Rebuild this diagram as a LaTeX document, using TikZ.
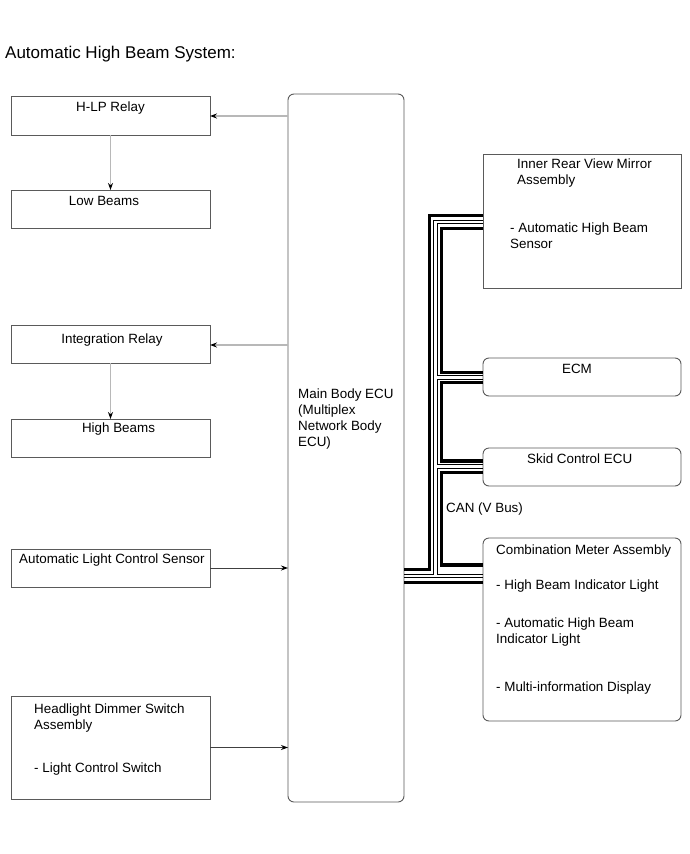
\documentclass[tikz,border=0pt]{standalone}
\usepackage{fontspec}
\setmainfont{Liberation Sans}
\usetikzlibrary{arrows.meta,calc}
\definecolor{boxgray}{HTML}{5A5A5A}
\definecolor{lightline}{HTML}{B8B8B8}
\definecolor{darkline}{HTML}{404040}
\begin{document}
\begin{tikzpicture}[x=1pt,y=-1pt,
  box/.style={draw=boxgray, line width=0.9pt, inner sep=0pt, outer sep=0pt, anchor=north west},
  rbox/.style={box, rounded corners=6pt},
  txt/.style={inner sep=0pt, anchor=base west, font=\fontsize{13.4}{16}\selectfont},
  ctxt/.style={txt, anchor=base},
  arr/.style={line width=1.2pt, -{Stealth[length=7pt,width=5pt,color=black]}},
  arrlight/.style={arr, draw=lightline},
  arrdark/.style={arr, draw=darkline, line width=0.9pt},
  thk/.style={line width=3.4pt, black, line join=miter},
  thn/.style={line width=0.8pt, black}]
\useasboundingbox[fill=white] (0,0) rectangle (690,854);

% title
\node[txt, font=\fontsize{17}{20}\selectfont] (title) at (5,58) {Automatic High Beam System:};

% left boxes
\node[box, minimum width=199pt, minimum height=39pt] (hlp) at (11,96) {};
\node[box, minimum width=199pt, minimum height=38pt] (low) at (11,190) {};
\node[box, minimum width=199pt, minimum height=38pt] (integ) at (11,325) {};
\node[box, minimum width=199pt, minimum height=38pt] (high) at (11,419) {};
\node[box, minimum width=199pt, minimum height=38pt] (alc) at (11,549) {};
\node[box, minimum width=199pt, minimum height=103pt] (dim) at (11,696) {};

% main ECU
\node[rbox, minimum width=116pt, minimum height=708pt] (ecu) at (288,94) {};

% right boxes
\node[box, minimum width=198pt, minimum height=134pt] (mirror) at (483,154) {};
\node[rbox, minimum width=198pt, minimum height=38pt] (ecm) at (483,358) {};
\node[rbox, minimum width=198pt, minimum height=38pt] (skid) at (483,448) {};
\node[rbox, minimum width=198pt, minimum height=183pt] (comb) at (483,538) {};

% texts
\node[ctxt] (thlp) at (110.5,111.5) {H-LP Relay};
\node[ctxt] (tlow) at (104,205) {Low Beams};
\node[ctxt] (tint) at (112,343) {Integration Relay};
\node[ctxt] (thigh) at (118.5,432) {High Beams};
\node[txt] (talc) at (19,563) {Automatic Light Control Sensor};
\node[txt] (tdim1) at (34,713) {Headlight Dimmer Switch};
\node[txt] (tdim2) at (34,729) {Assembly};
\node[txt] (tdim3) at (34,772) {- Light Control Switch};
\node[txt] (tecu1) at (298,398) {Main Body ECU};
\node[txt] (tecu2) at (298,414) {(Multiplex};
\node[txt] (tecu3) at (298,430) {Network Body};
\node[txt] (tecu4) at (298,446) {ECU)};
\node[txt] (tmir1) at (517,168) {Inner Rear View Mirror};
\node[txt] (tmir2) at (517,184) {Assembly};
\node[txt] (tmir3) at (510,232) {- Automatic High Beam};
\node[txt] (tmir4) at (510,248) {Sensor};
\node[ctxt] (tecm) at (577,373) {ECM};
\node[txt] (tskid) at (527,463) {Skid Control ECU};
\node[txt] (tcan) at (446,512) {CAN (V Bus)};
\node[txt] (tcomb1) at (496,554) {Combination Meter Assembly};
\node[txt] (tcomb2) at (496,589) {- High Beam Indicator Light};
\node[txt] (tcomb3) at (496,627) {- Automatic High Beam};
\node[txt] (tcomb4) at (496,643) {Indicator Light};
\node[txt] (tcomb5) at (496,691) {- Multi-information Display};

% arrows
\draw[arrlight] (ecu.west |- 0,116) -- (hlp.east |- 0,116);
\draw[arrlight] (ecu.west |- 0,345) -- (integ.east |- 0,345);
\draw[arrlight, line width=1pt] (hlp.south) -- (low.north);
\draw[arrlight, line width=1pt] (integ.south) -- (high.north);
\draw[arrdark] (alc.east) -- (ecu.west |- alc.east);
\draw[arrdark] (dim.east) -- (ecu.west |- dim.east);

% CAN bus: thick lines
\draw[thk] (ecu.east |- 0,569.5) -- (429.7,569.5) -- (429.7,215.7) -- (mirror.west |- 0,215.7);
\draw[thk] (mirror.west |- 0,228.3) -- (441.5,228.3) -- (441.5,372.7) -- (ecm.west |- 0,372.7);
\draw[thk] (ecm.west |- 0,382.3) -- (441.5,382.3) -- (441.5,461) -- (skid.west |- 0,461);
\draw[thk] (skid.west |- 0,472.3) -- (441.5,472.3) -- (441.5,565) -- (comb.west |- 0,565);
\draw[thk] (ecu.east |- 0,582.7) -- (comb.west |- 0,582.7);

% CAN bus: thin double lines
\draw[thn] (mirror.west |- 0,220.3) -- (433.8,220.3) -- (433.8,574) -- (ecu.east |- 0,574);
\draw[thn] (mirror.west |- 0,223.7) -- (437.3,223.7) -- (437.3,375.8) -- (ecm.west |- 0,375.8);
\draw[thn] (ecm.west |- 0,379.2) -- (437.3,379.2) -- (437.3,464.8) -- (skid.west |- 0,464.8);
\draw[thn] (skid.west |- 0,468.2) -- (437.3,468.2) -- (437.3,574) -- (comb.west |- 0,574);
\draw[thn] (ecu.east |- 0,577.5) -- (comb.west |- 0,577.5);
\end{tikzpicture}
\end{document}
